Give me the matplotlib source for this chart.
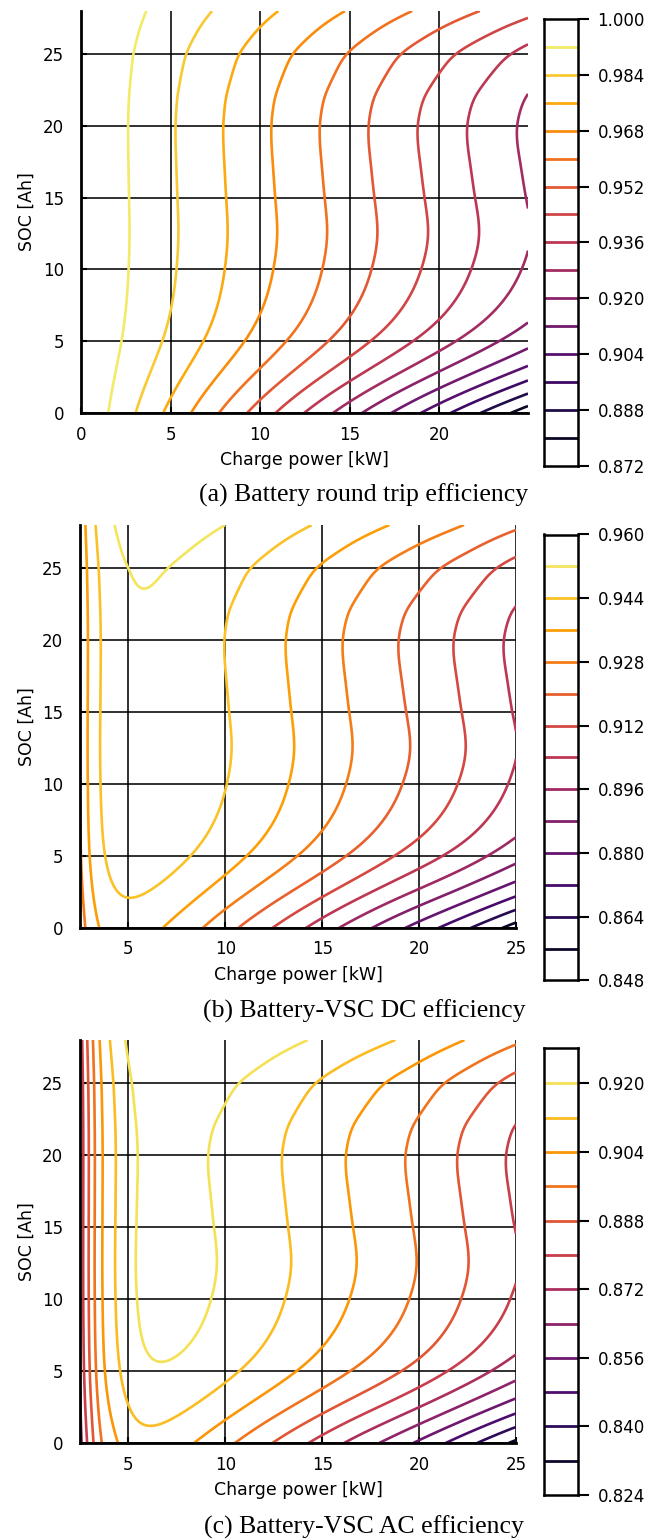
import numpy as np
import matplotlib
matplotlib.use("Agg")
import matplotlib.pyplot as plt
from matplotlib.colors import Normalize

# ---------------- data ----------------
# battery loss slope (per kW) versus state of charge
soc_knots = [0, 2.5, 5, 7.5, 10, 12.5, 15, 17.5, 20, 21, 22, 23, 24, 25, 26,
             27, 28]
loss_slope = [0.00528, 0.00428, 0.00355, 0.00318, 0.00302, 0.00296, 0.00299,
              0.00303, 0.00305, 0.00303, 0.00299, 0.00292, 0.00284, 0.00274,
              0.00258, 0.00240, 0.00220]
loss_curvature = 0.42

# DC converter loss versus charge power
dc_power_knots = [2.5, 2.9, 3.55, 5.03, 6.93, 10.2, 13.4, 16.4, 19.35, 22.2, 24.8]
dc_loss = [0.0648, 0.0558, 0.0459, 0.0347, 0.0296, 0.0267, 0.0256, 0.0252,
           0.0250, 0.0251, 0.0260]

# additional AC stage loss versus charge power
ac_power_knots = [2.5, 2.64, 2.95, 3.26, 3.67, 4.36, 5.45, 9.34, 13.22, 16.6,
                  19.66, 22.35, 24.9]
ac_loss = [0.0585, 0.0560, 0.0521, 0.0478, 0.0432, 0.0387, 0.0327, 0.0273,
           0.0261, 0.0253, 0.0251, 0.0258, 0.0262]

power_range_a = [0.0, 24.97]
power_range_bc = [2.5, 25.0]
soc_range = [0.0, 28.0]

clim_a = [0.872, 1.000]
clim_b = [0.848, 0.960]
clim_c = [0.824, 0.9282]
levels_a = [0.880, 0.888, 0.896, 0.904, 0.912, 0.920, 0.928, 0.936, 0.944,
            0.952, 0.960, 0.968, 0.976, 0.984, 0.992]
levels_b = [0.856, 0.864, 0.872, 0.880, 0.888, 0.896, 0.904, 0.912, 0.920,
            0.928, 0.936, 0.944, 0.952]
levels_c = [0.832, 0.840, 0.848, 0.856, 0.864, 0.872, 0.880, 0.888, 0.896,
            0.904, 0.912, 0.920]
cbar_ticks_a = [0.872, 0.888, 0.904, 0.920, 0.936, 0.952, 0.968, 0.984, 1.000]
cbar_ticks_b = [0.848, 0.864, 0.880, 0.896, 0.912, 0.928, 0.944, 0.960]
cbar_ticks_c = [0.824, 0.840, 0.856, 0.872, 0.888, 0.904, 0.920]
xticks_a = [0, 5, 10, 15, 20]
xticks_bc = [5, 10, 15, 20, 25]
yticks = [0, 5, 10, 15, 20, 25]

captions = ["(a) Battery round trip efficiency",
            "(b) Battery-VSC DC efficiency",
            "(c) Battery-VSC AC efficiency"]


# ---------------- helpers ----------------
def cspline(xk, yk, x):
    """natural cubic spline through the knots"""
    xk = np.asarray(xk, float)
    yk = np.asarray(yk, float)
    n = len(xk)
    h = np.diff(xk)
    d = np.diff(yk) / h
    A = np.zeros((n, n))
    r = np.zeros(n)
    A[0, 0] = 1.0
    A[-1, -1] = 1.0
    for i in range(1, n - 1):
        A[i, i - 1] = h[i - 1]
        A[i, i] = 2 * (h[i - 1] + h[i])
        A[i, i + 1] = h[i]
        r[i] = 6 * (d[i] - d[i - 1])
    M = np.linalg.solve(A, r)
    x = np.clip(x, xk[0], xk[-1])
    idx = np.clip(np.searchsorted(xk, x) - 1, 0, n - 2)
    hi = h[idx]
    a = xk[idx + 1] - x
    b = x - xk[idx]
    return (M[idx] * a**3 / (6 * hi) + M[idx + 1] * b**3 / (6 * hi)
            + (yk[idx] / hi - M[idx] * hi / 6) * a
            + (yk[idx + 1] / hi - M[idx + 1] * hi / 6) * b)


def power_loss(pk, lk, p):
    u_k = 1.0 / np.asarray(pk, float)[::-1]
    return cspline(u_k, np.asarray(lk, float)[::-1], 1.0 / p)


def battery_eff(p, s):
    x = cspline(soc_knots, loss_slope, s) * p
    return 1 - x + loss_curvature * x**2


n = 400
S = np.linspace(soc_range[0], soc_range[1], n)
Pa = np.linspace(power_range_a[0], power_range_a[1], n)
Pbc = np.linspace(power_range_bc[0], power_range_bc[1], n)
PA, SA = np.meshgrid(Pa, S)
PB, SB = np.meshgrid(Pbc, S)

eff_a = battery_eff(PA, SA)
eff_b = battery_eff(PB, SB) * (1 - power_loss(dc_power_knots, dc_loss, PB))
eff_c = eff_b * (1 - power_loss(ac_power_knots, ac_loss, PB))

# ---------------- figure ----------------
W, H = 667, 1540
fig = plt.figure(figsize=(W / 100, H / 100), dpi=100)


def px_axes(x0, x1, y0, y1):
    return fig.add_axes([x0 / W, 1 - y1 / H, (x1 - x0) / W, (y1 - y0) / H])


panels = [
    dict(P=PA, S=SA, Z=eff_a, clim=clim_a, levels=levels_a, cticks=cbar_ticks_a,
         xlim=power_range_a, xticks=xticks_a, ax=(81, 528, 11, 413),
         cb=(544, 578, 19, 465.7), cap_y=495, xlab_y=460),
    dict(P=PB, S=SB, Z=eff_b, clim=clim_b, levels=levels_b, cticks=cbar_ticks_b,
         xlim=power_range_bc, xticks=xticks_bc, ax=(80, 516, 525, 928),
         cb=(544, 578, 534.5, 980.5), cap_y=1011, xlab_y=975),
    dict(P=PB, S=SB, Z=eff_c, clim=clim_c, levels=levels_c, cticks=cbar_ticks_c,
         xlim=power_range_bc, xticks=xticks_bc, ax=(80, 516, 1040, 1443),
         cb=(544, 578, 1048.3, 1495), cap_y=1527, xlab_y=1490),
]

cmap = plt.get_cmap("inferno")
tick_fs = 12
label_fs = 12.5

for i, pn in enumerate(panels):
    x0, x1, y0, y1 = pn["ax"]
    ax = px_axes(x0, x1, y0, y1)
    norm = Normalize(pn["clim"][0], pn["clim"][1])
    ax.contour(pn["P"], pn["S"], pn["Z"], levels=pn["levels"], cmap=cmap,
               norm=norm, linewidths=1.9, zorder=3)
    ax.set_xlim(pn["xlim"])
    ax.set_ylim(soc_range)
    ax.set_xticks(pn["xticks"])
    ax.set_yticks(yticks)
    ax.grid(True, color="black", linewidth=1.2, alpha=0.95, zorder=1)
    ax.set_axisbelow(True)
    for side in ["top", "right"]:
        ax.spines[side].set_visible(False)
    for side in ["left", "bottom"]:
        ax.spines[side].set_linewidth(2.0)
        ax.spines[side].set_zorder(5)
    ax.tick_params(direction="in", length=4, width=1.5, labelsize=tick_fs,
                   pad=9)
    ax.tick_params(axis="y", pad=12)
    ax.set_ylabel("SOC [Ah]", fontsize=label_fs)
    ax.yaxis.set_label_coords((27 - x0) / (x1 - x0), 0.5)
    ax.set_xlabel("Charge power [kW]", fontsize=label_fs)
    ax.xaxis.set_label_coords(0.5, -(pn["xlab_y"] - y1) / (y1 - y0))
    ax.xaxis.label.set_va("center")
    ax.yaxis.label.set_va("center")

    # colour bar
    c0, c1, d0, d1 = pn["cb"]
    cax = px_axes(c0, c1, d0, d1)
    cax.set_xlim(0, 1)
    cax.set_ylim(pn["clim"])
    cax.hlines(pn["levels"], 0, 1, colors=[cmap(norm(v)) for v in pn["levels"]],
               linewidth=2.0)
    cax.set_xticks([])
    cax.yaxis.tick_right()
    cax.set_yticks(pn["cticks"])
    cax.set_yticklabels(["%.3f" % v for v in pn["cticks"]])
    cax.tick_params(axis="y", direction="out", length=8, width=1.5,
                    labelsize=tick_fs, pad=6)
    for sp in cax.spines.values():
        sp.set_linewidth(1.8)

    fig.text(364 / W, 1 - pn["cap_y"] / H, captions[i], ha="center", va="center",
             fontsize=18.5, family=["Liberation Serif", "DejaVu Serif"])

fig.savefig("out.png", dpi=100)
